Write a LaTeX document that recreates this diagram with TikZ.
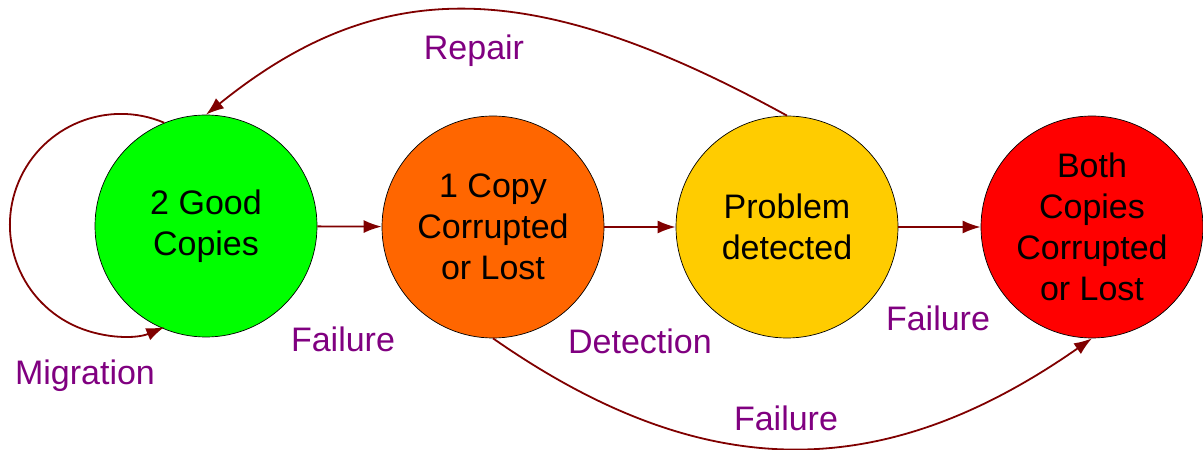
\documentclass[tikz,border=0pt]{standalone}
\usepackage{fontspec}
\setmainfont{Liberation Sans}
\usetikzlibrary{arrows.meta}
\definecolor{cgreen}{HTML}{00FF00}
\definecolor{corange}{HTML}{FF6600}
\definecolor{cyellow}{HTML}{FFCC00}
\definecolor{cred}{HTML}{FF0000}
\definecolor{cedge}{HTML}{800000}
\definecolor{clabel}{HTML}{800080}
\begin{document}
\begin{tikzpicture}[x=1pt,y=1pt,
  state/.style={circle,draw=black,line width=0.7pt,minimum size=222pt,inner sep=0pt,
    align=center,font=\fontsize{34}{41}\selectfont},
  edge/.style={draw=cedge,line width=1.8pt,-{Latex[length=18pt,width=13pt]}},
  lbl/.style={text=clabel,anchor=base,inner sep=0pt,font=\fontsize{34}{41}\selectfont}]
\useasboundingbox (0,0) rectangle (1203,450);
\node[state,fill=cgreen] (g) at (206,224) {2 Good\\Copies};
\node[state,fill=corange] (o) at (493,223) {1 Copy\\Corrupted\\or Lost};
\node[state,fill=cyellow] (y) at (787,223) {Problem\\detected};
\node[state,fill=cred] (r) at (1092,223) {Both\\Copies\\Corrupted\\or Lost};
\draw[edge] (g) -- (o);
\draw[edge] (o) -- (y);
\draw[edge] (y) -- (r);
\draw[edge] (y.north) .. controls (533,474) and (380,476) .. (g.north);
\draw[edge] (o.south) .. controls (703,-35) and (882,-35) .. (r.south);
\draw[edge] (g.112) arc[start angle=67,end angle=293,radius=111];
\node[lbl] (lrep) at (474,390) {Repair};
\node[lbl] (lf1) at (343,98) {Failure};
\node[lbl] (lmig) at (85,65) {Migration};
\node[lbl] (ldet) at (640,96) {Detection};
\node[lbl] (lf2) at (938,119) {Failure};
\node[lbl] (lf3) at (786,19) {Failure};
\end{tikzpicture}
\end{document}
